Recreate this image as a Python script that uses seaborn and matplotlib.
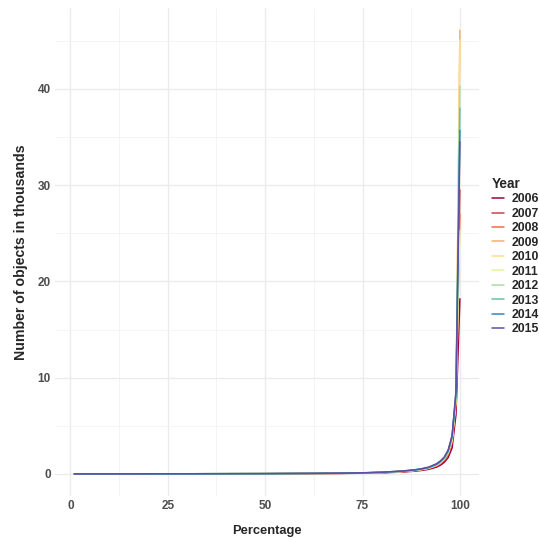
import pandas as pd
import seaborn as sns
import matplotlib.pyplot as plt

# percentile positions and objects (in thousands) per year
pct = [1, 10, 25, 50, 60, 70, 75, 80, 85, 88, 90, 92, 94, 95, 96, 97, 98, 99, 100]

y2006 = [0, 0, 0.004, 0.015, 0.03, 0.05, 0.07, 0.11, 0.19, 0.27, 0.35, 0.47, 0.7, 0.9, 1.2, 1.7, 2.7, 6.2, 18.2]
y2007 = [0, 0, 0.005, 0.018, 0.035, 0.06, 0.08, 0.13, 0.22, 0.31, 0.4, 0.54, 0.8, 1.05, 1.4, 2.0, 3.2, 7.2, 29.5]
y2008 = [0, 0, 0.005, 0.018, 0.035, 0.06, 0.085, 0.14, 0.23, 0.33, 0.42, 0.57, 0.85, 1.1, 1.5, 2.1, 3.4, 7.4, 27.0]
y2009 = [0, 0, 0.005, 0.02, 0.04, 0.065, 0.09, 0.15, 0.25, 0.35, 0.45, 0.6, 0.9, 1.15, 1.55, 2.2, 3.5, 7.8, 46.1]
y2010 = [0, 0, 0.005, 0.02, 0.04, 0.065, 0.09, 0.15, 0.25, 0.35, 0.45, 0.6, 0.9, 1.15, 1.55, 2.2, 3.5, 7.8, 45.1]
y2011 = [0, 0, 0.005, 0.02, 0.04, 0.065, 0.09, 0.15, 0.25, 0.36, 0.46, 0.62, 0.92, 1.2, 1.6, 2.25, 3.6, 7.9, 25.3]
y2012 = [0, 0, 0.005, 0.02, 0.04, 0.07, 0.095, 0.16, 0.26, 0.37, 0.47, 0.63, 0.95, 1.22, 1.62, 2.3, 3.7, 8.0, 40.3]
y2013 = [0, 0, 0.006, 0.022, 0.042, 0.07, 0.1, 0.16, 0.27, 0.38, 0.48, 0.65, 0.97, 1.25, 1.66, 2.35, 3.8, 8.2, 38.0]
y2014 = [0, 0, 0.006, 0.022, 0.045, 0.075, 0.1, 0.17, 0.28, 0.39, 0.5, 0.67, 1.0, 1.3, 1.7, 2.4, 3.9, 8.4, 35.7]
y2015 = [0, 0, 0.006, 0.024, 0.045, 0.075, 0.11, 0.17, 0.29, 0.4, 0.52, 0.7, 1.05, 1.35, 1.75, 2.5, 4.0, 8.6, 34.5]

years = [2006, 2007, 2008, 2009, 2010, 2011, 2012, 2013, 2014, 2015]
series = [y2006, y2007, y2008, y2009, y2010, y2011, y2012, y2013, y2014, y2015]

spectral = ['#9E0142', '#D53E4F', '#F46D43', '#FDAE61', '#FEE08B',
            '#E6F598', '#ABDDA4', '#66C2A5', '#3288BD', '#5E4FA2']

rows = []
for yr, vals in zip(years, series):
    for p, v in zip(pct, vals):
        rows.append({'Percentage': p, 'Objects': v, 'Year': str(yr)})
df = pd.DataFrame(rows)

sns.set_style('white')
plt.rcParams['font.family'] = ['Liberation Sans', 'DejaVu Sans']

fig = plt.figure(figsize=(5.39, 5.4), dpi=100)
ax = fig.add_axes([0.102, 0.0815, 0.787, 0.9035])

sns.lineplot(data=df, x='Percentage', y='Objects', hue='Year',
             palette=spectral, linewidth=1.1, ax=ax)

ax.set_xlim(-3.95, 104.95)
ax.set_ylim(-2.3, 48.4)
ax.set_xticks([0, 25, 50, 75, 100])
ax.set_yticks([0, 10, 20, 30, 40])
ax.set_xticks([12.5, 37.5, 62.5, 87.5], minor=True)
ax.set_yticks([5, 15, 25, 35, 45], minor=True)
ax.grid(True, which='major', color='#EBEBEB', linewidth=1.0)
ax.grid(True, which='minor', color='#F2F2F2', linewidth=0.6)
ax.set_axisbelow(True)
for s in ax.spines.values():
    s.set_visible(False)
ax.tick_params(axis='both', which='both', length=0, pad=3)
for lab in ax.get_xticklabels() + ax.get_yticklabels():
    lab.set_fontweight('bold')
    lab.set_color('#4D4D4D')
    lab.set_fontsize(8.5)

ax.set_xlabel('Percentage', fontsize=9.3, fontweight='bold', labelpad=9)
ax.set_ylabel('Number of objects in thousands', fontsize=10.2, fontweight='bold', labelpad=7)

handles, labels = ax.get_legend_handles_labels()
ax.get_legend().remove()
leg = fig.legend(handles, labels, title='Year', loc='upper left',
                 bbox_to_anchor=(492 / 539, 1 - 177 / 540), frameon=False,
                 fontsize=8.8, handlelength=1.0, handletextpad=0.6,
                 labelspacing=0.2, borderaxespad=0, borderpad=0)
leg.get_title().set_fontweight('bold')
leg.get_title().set_fontsize(9.8)
leg._legend_box.align = 'left'
for t in leg.get_texts():
    t.set_fontweight('bold')

fig.savefig('out.png', dpi=100)
